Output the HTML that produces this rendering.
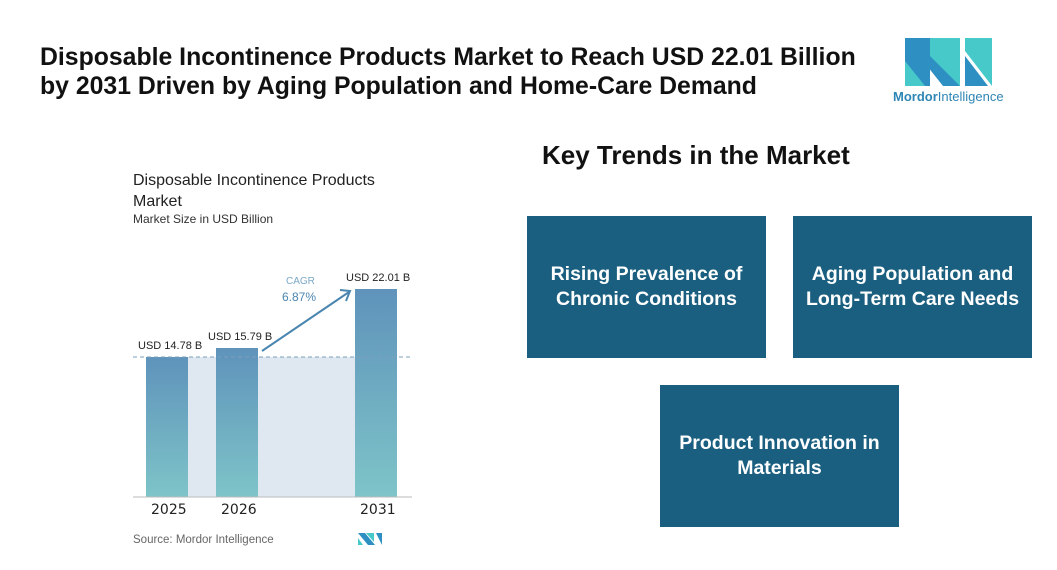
<!DOCTYPE html>
<html><head><style>
body{margin:0;width:1057px;height:570px;background:#fff;font-family:"Liberation Sans",sans-serif;position:relative;overflow:hidden}
.a{position:absolute}
.t{left:40px;top:43px;font-size:24.8px;font-weight:bold;color:#111;line-height:29px;white-space:nowrap}
.box{position:absolute;width:239px;height:142px;background:#1a5f80;color:#fff;font-weight:bold;font-size:19.5px;line-height:25px;display:flex;align-items:center;justify-content:center;text-align:center}
.lbl{font-size:11px;color:#222}
.yr{font-size:14px;color:#222;font-family:"DejaVu Sans",sans-serif}
</style></head><body>
<div class="a t">Disposable Incontinence Products Market to Reach USD 22.01 Billion<br>by 2031 Driven by Aging Population and Home-Care Demand</div>
<svg class="a" style="left:900px;top:36px" width="100" height="52" viewBox="0 0 100 52">
<polygon points="5,2 30,2 30,50 5,50" fill="#2e8fc2"/>
<polygon points="5,2 22,2 60,50 43,50" fill="#2e8fc2"/>
<polygon points="30,2 60,2 60,50 30,20" fill="#48c9c9"/>
<polygon points="5,25 5,50 25,50" fill="#48c9c9"/>
<polygon points="65,2 92,2 92,50 65,15" fill="#48c9c9"/>
<polygon points="65,20 88,50 65,50" fill="#2e8fc2"/>
</svg>
<div class="a" style="left:893px;top:89px;font-size:13px;color:#2f86b5"><b style="font-weight:bold">Mordor</b>Intelligence</div>
<div class="a" style="left:542px;top:140px;font-size:26px;font-weight:bold;color:#111">Key Trends in the Market</div>
<div class="box" style="left:527px;top:216px">Rising Prevalence of<br>Chronic Conditions</div>
<div class="box" style="left:793px;top:216px">Aging Population and<br>Long-Term Care Needs</div>
<div class="box" style="left:660px;top:385px">Product Innovation in<br>Materials</div>
<div class="a" style="left:133px;top:170px;font-size:16px;color:#222;line-height:21px">Disposable Incontinence Products<br>Market</div>
<div class="a" style="left:133px;top:212px;font-size:12px;color:#333">Market Size in USD Billion</div>
<svg class="a" style="left:0;top:0" width="1057" height="570">
<defs><linearGradient id="g" x1="0" y1="0" x2="0" y2="1"><stop offset="0" stop-color="#5f93bb"/><stop offset="1" stop-color="#7ec4c8"/></linearGradient></defs>
<rect x="188" y="357" width="167" height="140" fill="#dfe8f1"/>
<rect x="146" y="357" width="42" height="140" fill="url(#g)"/>
<rect x="216" y="348" width="42" height="149" fill="url(#g)"/>
<rect x="355" y="289" width="42" height="208" fill="url(#g)"/>
<line x1="133" y1="357" x2="412" y2="357" stroke="#7aa0bb" stroke-dasharray="4,3"/>
<line x1="133" y1="497" x2="412" y2="497" stroke="#bbb"/>
<line x1="262" y1="351" x2="349" y2="292" stroke="#4a86b0" stroke-width="2"/>
<polyline points="340,290 350,291 346,301" fill="none" stroke="#4a86b0" stroke-width="2"/>
</svg>
<div class="a lbl" style="left:138px;top:340px">USD 14.78 B</div>
<div class="a lbl" style="left:208px;top:331px">USD 15.79 B</div>
<div class="a lbl" style="left:346px;top:272px">USD 22.01 B</div>
<div class="a" style="left:286px;top:276px;font-size:10px;color:#7aa8c8">CAGR</div>
<div class="a" style="left:282px;top:290px;font-size:12px;color:#4a86b0">6.87%</div>
<div class="a yr" style="left:151px;top:502px">2025</div>
<div class="a yr" style="left:221px;top:502px">2026</div>
<div class="a yr" style="left:360px;top:502px">2031</div>
<div class="a" style="left:133px;top:534px;font-size:11.5px;color:#666">Source: Mordor Intelligence</div>
<svg class="a" style="left:357px;top:532px" width="26" height="14"><polygon points="1,1 8,1 18,13 11,13" fill="#2e8fc2"/><polygon points="1,6 1,13 6,13" fill="#48c9c9"/><polygon points="9,1 17,1 17,10" fill="#48c9c9"/><polygon points="19,1 25,1 25,13" fill="#2e8fc2"/></svg>
</body></html>
